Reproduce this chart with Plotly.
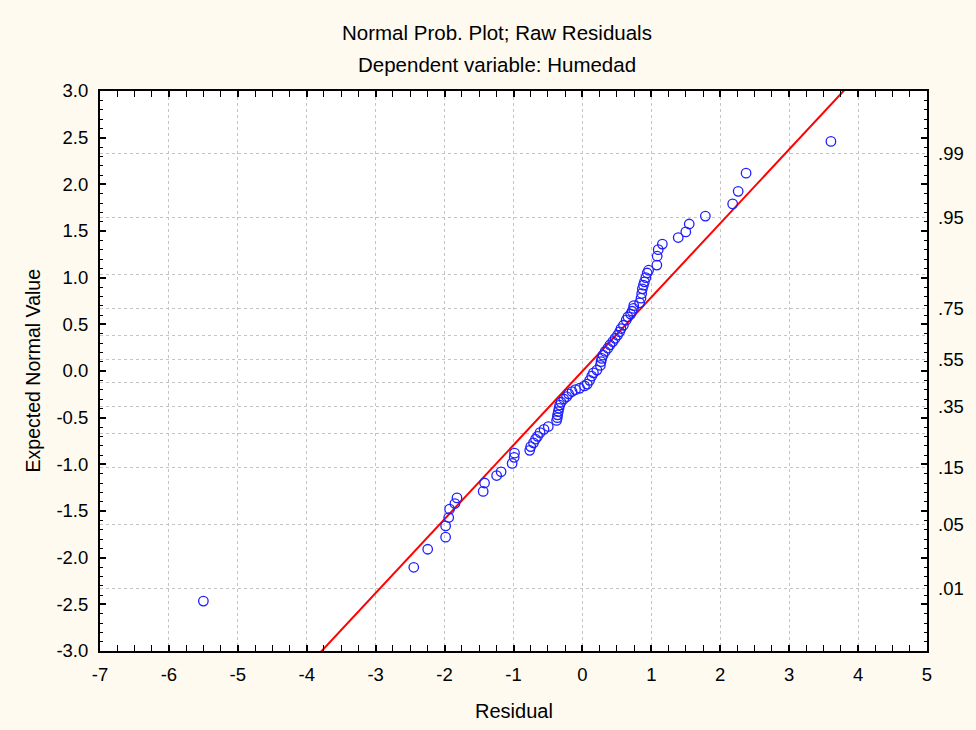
import plotly.graph_objects as go

# ---- data ----
residual = [-5.50, -2.447, -2.245, -1.985, -1.985, -1.94, -1.927, -1.85, -1.82, -1.44,
            -1.42, -1.245, -1.18, -1.02, -0.99, -0.985, -0.765, -0.75, -0.71, -0.68,
            -0.65, -0.615, -0.557, -0.495, -0.375, -0.365, -0.36, -0.35, -0.34, -0.33,
            -0.31, -0.27, -0.23, -0.20, -0.15, -0.10, -0.04, 0.03, 0.07, 0.105,
            0.135, 0.16, 0.21, 0.26, 0.27, 0.28, 0.30, 0.33, 0.37, 0.40,
            0.44, 0.475, 0.51, 0.54, 0.56, 0.595, 0.635, 0.66, 0.70, 0.72,
            0.74, 0.745, 0.83, 0.85, 0.86, 0.87, 0.885, 0.90, 0.92, 0.94,
            0.96, 1.08, 1.085, 1.10, 1.16, 1.39, 1.50, 1.55, 1.784, 2.18,
            2.26, 2.375, 3.606]
expected_normal = [-2.465, -2.103, -1.91, -1.78, -1.66, -1.57, -1.48, -1.42, -1.36, -1.29,
                   -1.20, -1.12, -1.08, -0.99, -0.925, -0.88, -0.85, -0.81, -0.77, -0.73,
                   -0.70, -0.66, -0.625, -0.595, -0.53, -0.50, -0.47, -0.435, -0.40, -0.365,
                   -0.335, -0.30, -0.275, -0.245, -0.22, -0.20, -0.185, -0.16, -0.14, -0.10,
                   -0.055, -0.02, 0.01, 0.06, 0.10, 0.135, 0.17, 0.21, 0.245, 0.28,
                   0.315, 0.35, 0.385, 0.42, 0.455, 0.49, 0.545, 0.58, 0.61, 0.64,
                   0.67, 0.70, 0.73, 0.78, 0.83, 0.88, 0.92, 0.955, 1.00, 1.05,
                   1.08, 1.135, 1.23, 1.30, 1.36, 1.43, 1.49, 1.575, 1.66, 1.79,
                   1.925, 2.12, 2.46]

fit_slope = 0.7923
fit_intercept = -0.002
fit_x = [-7.0, 5.0]

prob_z = [-2.326, -1.645, -1.036, -0.674, -0.385, -0.126, 0.126, 0.385, 0.674, 1.036, 1.645, 2.326]
prob_labels = [".01", ".05", ".15", "", ".35", "", ".55", "", ".75", "", ".95", ".99"]

x_ticks = [-7, -6, -5, -4, -3, -2, -1, 0, 1, 2, 3, 4, 5]
y_ticks = [-3.0, -2.5, -2.0, -1.5, -1.0, -0.5, 0.0, 0.5, 1.0, 1.5, 2.0, 2.5, 3.0]

FONT = "Liberation Sans, Arial, sans-serif"
BG = "#fefaf0"

fig = go.Figure()
fig.add_trace(go.Scatter(
    x=fit_x, y=[fit_slope * v + fit_intercept for v in fit_x],
    mode="lines", line=dict(color="#ff0000", width=2), showlegend=False, hoverinfo="skip"))
fig.add_trace(go.Scatter(
    x=residual, y=expected_normal, mode="markers",
    marker=dict(symbol="circle-open", size=9.5, color="#1f1fff", line=dict(width=1.3)),
    showlegend=False))
fig.add_trace(go.Scatter(x=[0], y=[0], yaxis="y2", mode="markers",
                         marker=dict(opacity=0), showlegend=False, hoverinfo="skip"))

fig.update_layout(
    width=976, height=730,
    paper_bgcolor=BG, plot_bgcolor="#ffffff",
    margin=dict(l=100, r=44, t=91, b=79),
    font=dict(family=FONT, size=18.5, color="#000000"),
    xaxis=dict(range=[-7, 5], tickvals=x_ticks, ticktext=[str(v) for v in x_ticks],
               showgrid=True, gridcolor="#c4c4c4", griddash="dot", gridwidth=1,
               zeroline=False, showline=True, linecolor="#000000", linewidth=2,
               mirror="allticks", ticks="inside", ticklen=6, tickwidth=1.5, tickcolor="#000000",
               ticklabelstandoff=6,
               minor=dict(dtick=0.25, tick0=0, ticks="inside", ticklen=3, tickwidth=1.2,
                          tickcolor="#000000", showgrid=False)),
    yaxis=dict(range=[-3, 3], tickvals=y_ticks, ticktext=[f"{v:.1f}" for v in y_ticks],
               showgrid=False, zeroline=False, showline=True, linecolor="#000000", linewidth=2,
               mirror="allticks", ticks="inside", ticklen=6, tickwidth=1.5, tickcolor="#000000",
               ticklabelstandoff=6,
               minor=dict(dtick=0.1, tick0=0, ticks="inside", ticklen=3, tickwidth=1.2,
                          tickcolor="#000000", showgrid=False)),
    yaxis2=dict(range=[-3, 3], overlaying="y", side="right", tickvals=prob_z, ticktext=prob_labels,
                showgrid=True, gridcolor="#c4c4c4", griddash="dot", gridwidth=1,
                zeroline=False, showline=False, ticks="", ticklabelstandoff=10),
    annotations=[
        dict(text="Normal Prob. Plot; Raw Residuals", xref="paper", yref="paper",
             x=0.4796, y=1 + 58 / 560, xanchor="center", yanchor="middle", showarrow=False,
             font=dict(size=20.5)),
        dict(text="Dependent variable: Humedad", xref="paper", yref="paper",
             x=0.4796, y=1 + 26 / 560, xanchor="center", yanchor="middle", showarrow=False,
             font=dict(size=20.5)),
        dict(text="Residual", xref="paper", yref="paper",
             x=0.5, y=-60 / 560, xanchor="center", yanchor="middle", showarrow=False,
             font=dict(size=20)),
        dict(text="Expected Normal Value", xref="paper", yref="paper",
             x=-67 / 832, y=0.5, xanchor="center", yanchor="middle", showarrow=False,
             textangle=-90, font=dict(size=19.5)),
    ],
)

fig.write_html("out.html")
